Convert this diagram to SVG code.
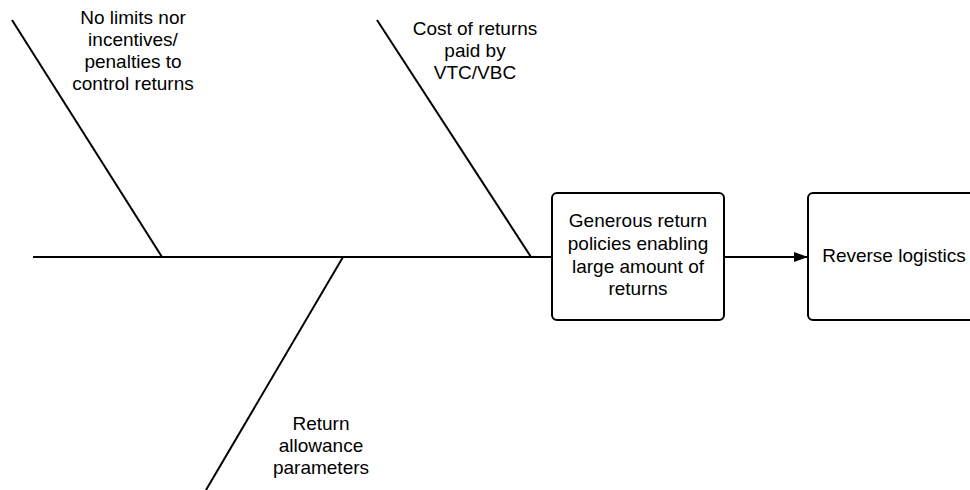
<svg xmlns="http://www.w3.org/2000/svg" width="970" height="490" viewBox="0 0 970 490">
  <style>
    .edge { stroke: #000; stroke-width: 2; fill: none; }
    .box { fill: #fff; stroke: #000; stroke-width: 2; }
    .label { font-family: "Liberation Sans", Arial, sans-serif; font-size: 19px; fill: #000; text-anchor: middle; }
  </style>
  <defs>
    <marker id="arrow" markerWidth="14" markerHeight="10" refX="13" refY="5" orient="auto" markerUnits="userSpaceOnUse">
      <path d="M0,0 L14,5 L0,10 Z" fill="#000"/>
    </marker>
  </defs>
  <rect width="970" height="490" fill="#fff"/>

  <g id="connectors">
    <!-- spine -->
    <line class="edge" x1="33" y1="257" x2="551" y2="257"/>
    <!-- ribs -->
    <line class="edge" x1="12" y1="20" x2="162" y2="257"/>
    <line class="edge" x1="377" y1="20" x2="531" y2="257"/>
    <line class="edge" x1="343" y1="257" x2="206" y2="490"/>
    <!-- effect to outcome -->
    <line class="edge" x1="724" y1="257" x2="807" y2="257" marker-end="url(#arrow)"/>
  </g>

  <g id="cause-limits">
    <text class="label" x="133" y="24">No limits nor</text>
    <text class="label" x="133" y="46">incentives/</text>
    <text class="label" x="133" y="68">penalties to</text>
    <text class="label" x="133" y="90">control returns</text>
  </g>

  <g id="cause-cost">
    <text class="label" x="475" y="35">Cost of returns</text>
    <text class="label" x="475" y="57">paid by</text>
    <text class="label" x="475" y="79">VTC/VBC</text>
  </g>

  <g id="cause-allowance">
    <text class="label" x="321" y="430">Return</text>
    <text class="label" x="321" y="452">allowance</text>
    <text class="label" x="321" y="474">parameters</text>
  </g>

  <g id="effect">
    <rect class="box" x="552" y="193" width="172" height="127" rx="5"/>
    <text class="label" x="638" y="227">Generous return</text>
    <text class="label" x="638" y="250">policies enabling</text>
    <text class="label" x="638" y="273">large amount of</text>
    <text class="label" x="638" y="295">returns</text>
  </g>

  <g id="outcome">
    <rect class="box" x="808" y="193" width="174" height="127" rx="5"/>
    <text class="label" x="894" y="262">Reverse logistics</text>
  </g>
</svg>
